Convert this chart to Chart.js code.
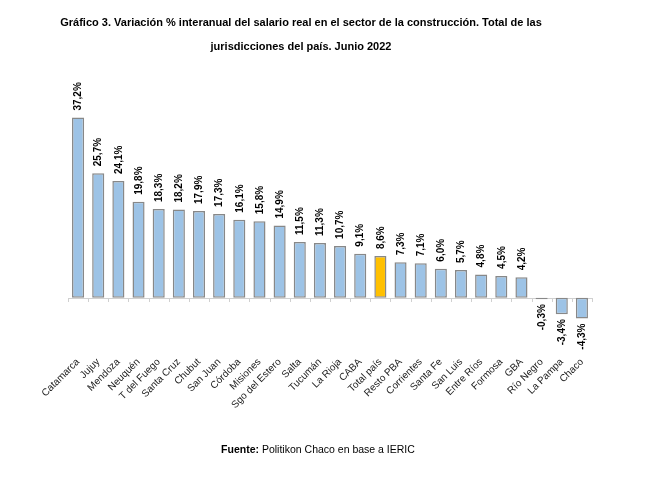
<!DOCTYPE html>
<html>
<head>
<meta charset="utf-8">
<script src="https://cdn.jsdelivr.net/npm/chart.js@4.4.0/dist/chart.umd.min.js"></script>
<style>
  body { margin: 0; background: #fff; }
  #wrap { position: relative; width: 646px; height: 483px; }
  #chart { position: absolute; left: 0; top: 0; }
  #title {
    position: absolute; left: 0; top: 10px; width: 602px;
    text-align: center; font: bold 11px "Liberation Sans", Arial, sans-serif;
    line-height: 24px; color: #000;
  }
  #source {
    position: absolute; left: 0; top: 443px; width: 636px;
    text-align: center; font: 10.5px "Liberation Sans", Arial, sans-serif; color: #000;
  }
</style>
</head>
<body>
<div id="wrap">
  <canvas id="chart" width="646" height="483"></canvas>
  <div id="title">Gráfico 3. Variación % interanual del salario real en el sector de la construcción. Total de las<br>jurisdicciones del país. Junio 2022</div>
  <div id="source"><b>Fuente:</b> Politikon Chaco en base a IERIC</div>
</div>
<script>
// Variación % interanual del salario real, construcción, junio 2022
const provincias = ['Catamarca', 'Jujuy', 'Mendoza', 'Neuquén', 'T del Fuego', 'Santa Cruz', 'Chubut',
  'San Juan', 'Córdoba', 'Misiones', 'Sgo del Estero', 'Salta', 'Tucumán', 'La Rioja', 'CABA',
  'Total país', 'Resto PBA', 'Corrientes', 'Santa Fe', 'San Luis', 'Entre Ríos', 'Formosa', 'GBA',
  'Río Negro', 'La Pampa', 'Chaco'];
const variacion = [37.2, 25.7, 24.1, 19.8, 18.3, 18.2, 17.9, 17.3, 16.1, 15.8, 14.9, 11.5, 11.3, 10.7,
  9.1, 8.6, 7.3, 7.1, 6.0, 5.7, 4.8, 4.5, 4.2, -0.3, -3.4, -4.3];

const AZUL = '#9DC3E6';
const DORADO = '#FFC000';

// Total país resaltado
const colores = provincias.map(p => p === 'Total país' ? DORADO : AZUL);

// eje en cero + rótulos de valor verticales
const etiquetas = {
  id: 'etiquetas',
  beforeDatasetsDraw(chart) {
    const { ctx, chartArea, scales } = chart;
    const y0 = scales.y.getPixelForValue(0);
    ctx.save();
    ctx.strokeStyle = '#D0D0D0';
    ctx.lineWidth = 1;
    ctx.beginPath();
    ctx.moveTo(chartArea.left, Math.round(y0) + 0.5);
    ctx.lineTo(chartArea.right, Math.round(y0) + 0.5);
    const n = provincias.length;
    for (let i = 0; i <= n; i++) {
      const x = Math.round(scales.x.getPixelForValue(i - 0.5)) + 0.5;
      ctx.moveTo(x, Math.round(y0));
      ctx.lineTo(x, Math.round(y0) + 4);
    }
    ctx.stroke();
    ctx.restore();
  },
  afterDatasetsDraw(chart) {
    const { ctx } = chart;
    const meta = chart.getDatasetMeta(0);
    ctx.save();
    ctx.fillStyle = '#000';
    ctx.font = 'bold 10px "Liberation Sans", Arial, sans-serif';
    ctx.textBaseline = 'middle';
    meta.data.forEach((bar, i) => {
      const v = variacion[i];
      const txt = v.toFixed(1).replace('.', ',') + '%';
      ctx.save();
      if (v >= 0) {
        ctx.translate(bar.x + 0.5, bar.y - 7);
        ctx.rotate(-Math.PI / 2);
        ctx.textAlign = 'left';
      } else {
        ctx.translate(bar.x + 0.5, bar.y + 5);
        ctx.rotate(-Math.PI / 2);
        ctx.textAlign = 'right';
      }
      ctx.fillText(txt, 0, 0);
      ctx.restore();
    });
    ctx.restore();
  }
};

new Chart(document.getElementById('chart'), {
  type: 'bar',
  data: {
    labels: provincias,
    datasets: [{
      data: variacion,
      backgroundColor: colores,
      borderColor: '#888888',
      borderWidth: 1.5,
      borderSkipped: false,
      categoryPercentage: 1,
      barPercentage: 0.6
    }]
  },
  options: {
    responsive: false,
    animation: false,
    layout: { padding: { left: 68, right: 54, top: 104, bottom: 70 } },
    plugins: {
      legend: { display: false },
      tooltip: { enabled: false }
    },
    scales: {
      x: {
        grid: { display: false },
        border: { display: false },
        ticks: {
          autoSkip: false,
          minRotation: 45,
          maxRotation: 45,
          padding: 2,
          color: '#222',
          font: { family: '"Liberation Sans", Arial, sans-serif', size: 10 }
        }
      },
      y: {
        display: false,
        min: -10,
        max: 40
      }
    }
  },
  plugins: [etiquetas]
});
</script>
</body>
</html>
